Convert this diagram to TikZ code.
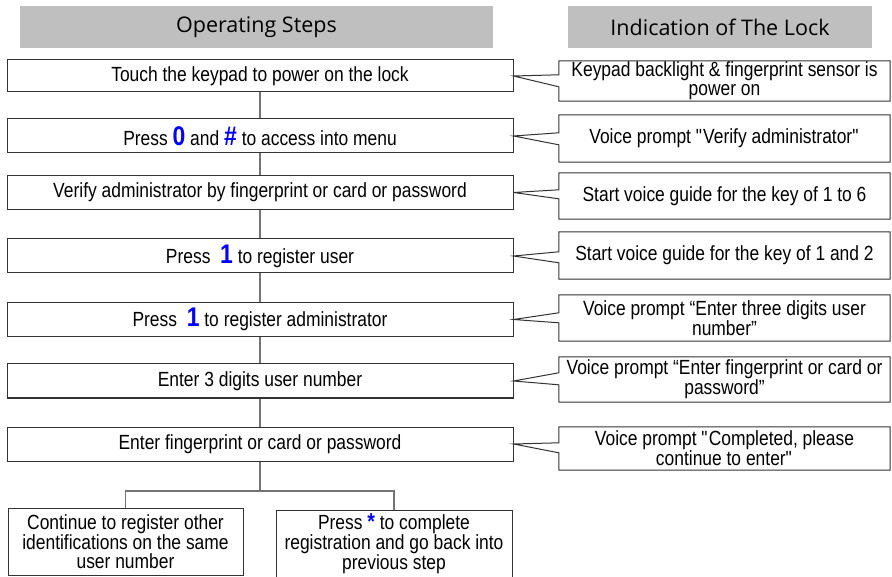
\documentclass[tikz,border=0pt]{standalone}
\usepackage{fontspec}
\setmainfont{Liberation Sans}[FakeStretch=0.85]
\newfontfamily\headfont{Open Sans}
\usepackage{tikz}
\usetikzlibrary{positioning}

\tikzset{
  stepbox/.style={draw=black!80, line width=1pt, minimum width=506pt, minimum height=34pt,
    inner sep=0pt, align=center, font=\fontsize{20.5}{19}\selectfont},
  lockbox/.style={minimum width=331pt, inner sep=0pt, align=center,
    font=\fontsize{20.5}{19}\selectfont},
  header/.style={fill=gray!50, inner sep=0pt, minimum height=42pt,
    font=\headfont\fontsize{21.5}{21}\selectfont, text=black},
  link/.style={draw=black!55, line width=1.3pt},
  outline/.style={draw=black!80, line width=1pt, line join=miter},
}
\newcommand{\keynum}[1]{\textcolor{blue}{\bfseries\fontsize{27}{19}\selectfont #1}}

\begin{document}
\begin{tikzpicture}[x=1pt, y=-1pt]
\useasboundingbox (0,0) rectangle (892,577);

% Column titles
\node[header, minimum width=473pt] (hsteps) at (256.5,27) {Operating Steps};
\node[header, minimum width=304pt] (hlock) at (720,27) {Indication of The Lock};

% Operating steps
\node[stepbox, minimum height=32pt] (s1) at (260,76) {Touch the keypad to power on the lock};
\node[stepbox] (s2) at (260,136) {Press \keynum{0} and \keynum{\#} to access into menu};
\node[stepbox] (s3) at (260,192.5) {Verify administrator by fingerprint or card or password};
\node[stepbox] (s4) at (260,256) {Press \ \keynum{1} to register user};
\node[stepbox] (s5) at (260,319.5) {Press \ \keynum{1} to register administrator};
\node[stepbox] (s6) at (260,381) {Enter 3 digits user number};
\node[stepbox] (s7) at (260,444) {Enter fingerprint or card or password};

\draw[link] (s1) -- (s2);
\draw[link] (s2) -- (s3);
\draw[link] (s3) -- (s4);
\draw[link] (s4) -- (s5);
\draw[link] (s5) -- (s6);
\draw[link] (s6) -- (s7);

% Two ways to go on
\coordinate (fork) at (260,491);
\node[stepbox, minimum width=235pt, minimum height=67pt] (s8) at (125.5,541.5)
  {Continue to register other\\identifications on the same\\user number};
\node[stepbox, minimum width=236pt, minimum height=68pt] (s9) at (394,544)
  {Press \textcolor{blue}{\bfseries\fontsize{23}{19}\selectfont *} to complete\\registration and go back into\\previous step};
\draw[link] (s7) -- (fork);
\draw[link] (s8.north) |- (fork) -| (s9.north);

% Indication 1
\node[lockbox, minimum height=40pt] (l1) at (724.5,81)
  {Keypad backlight \& fingerprint sensor is\\power on};
\draw[outline] (l1.north west) -- (l1.north east) -- (l1.south east) -- (l1.south west)
  -- ([yshift=-26pt]l1.north west) -- (s1.east) -- ([yshift=-14pt]l1.north west) -- cycle;

% Indication 2
\node[lockbox, minimum height=47pt] (l2) at (724.5,138.5) {Voice prompt \textquotedbl Verify administrator\textquotedbl};
\draw[outline] (l2.north west) -- (l2.north east) -- (l2.south east) -- (l2.south west)
  -- ([yshift=-30pt]l2.north west) -- (s2.east) -- ([yshift=-18pt]l2.north west) -- cycle;

% Indication 3
\node[lockbox, minimum height=46pt] (l3) at (724.5,196) {Start voice guide for the key of 1 to 6};
\draw[outline] (l3.north west) -- (l3.north east) -- (l3.south east) -- (l3.south west)
  -- ([yshift=-26pt]l3.north west) -- (s3.east) -- ([yshift=-17pt]l3.north west) -- cycle;

% Indication 4
\node[lockbox, minimum height=47pt] (l4) at (724.5,255.5) {Start voice guide for the key of 1 and 2};
\draw[outline] (l4.north west) -- (l4.north east) -- (l4.south east) -- (l4.south west)
  -- ([yshift=-31pt]l4.north west) -- (s4.east) -- ([yshift=-20pt]l4.north west) -- cycle;

% Indication 5
\node[lockbox, minimum height=46pt] (l5) at (724.5,318)
  {Voice prompt “Enter three digits user\\number”};
\draw[outline] (l5.north west) -- (l5.north east) -- (l5.south east) -- (l5.south west)
  -- ([yshift=-28pt]l5.north west) -- (s5.east) -- ([yshift=-18pt]l5.north west) -- cycle;

% Indication 6
\node[lockbox, minimum height=45pt] (l6) at (724.5,379.5)
  {Voice prompt “Enter fingerprint or card or\\password”};
\draw[outline] (l6.north west) -- (l6.north east) -- (l6.south east) -- (l6.south west)
  -- ([yshift=-28pt]l6.north west) -- (s6.east) -- ([yshift=-16pt]l6.north west) -- cycle;

% Indication 7
\node[lockbox, minimum height=43pt] (l7) at (724.5,448.5)
  {Voice prompt \textquotedbl Completed, please\\continue to enter\textquotedbl};
\draw[outline] (l7.north west) -- (l7.north east) -- (l7.south east) -- (l7.south west)
  -- ([yshift=-26pt]l7.north west) -- (s7.east) -- ([yshift=-16pt]l7.north west) -- cycle;
\end{tikzpicture}
\end{document}
